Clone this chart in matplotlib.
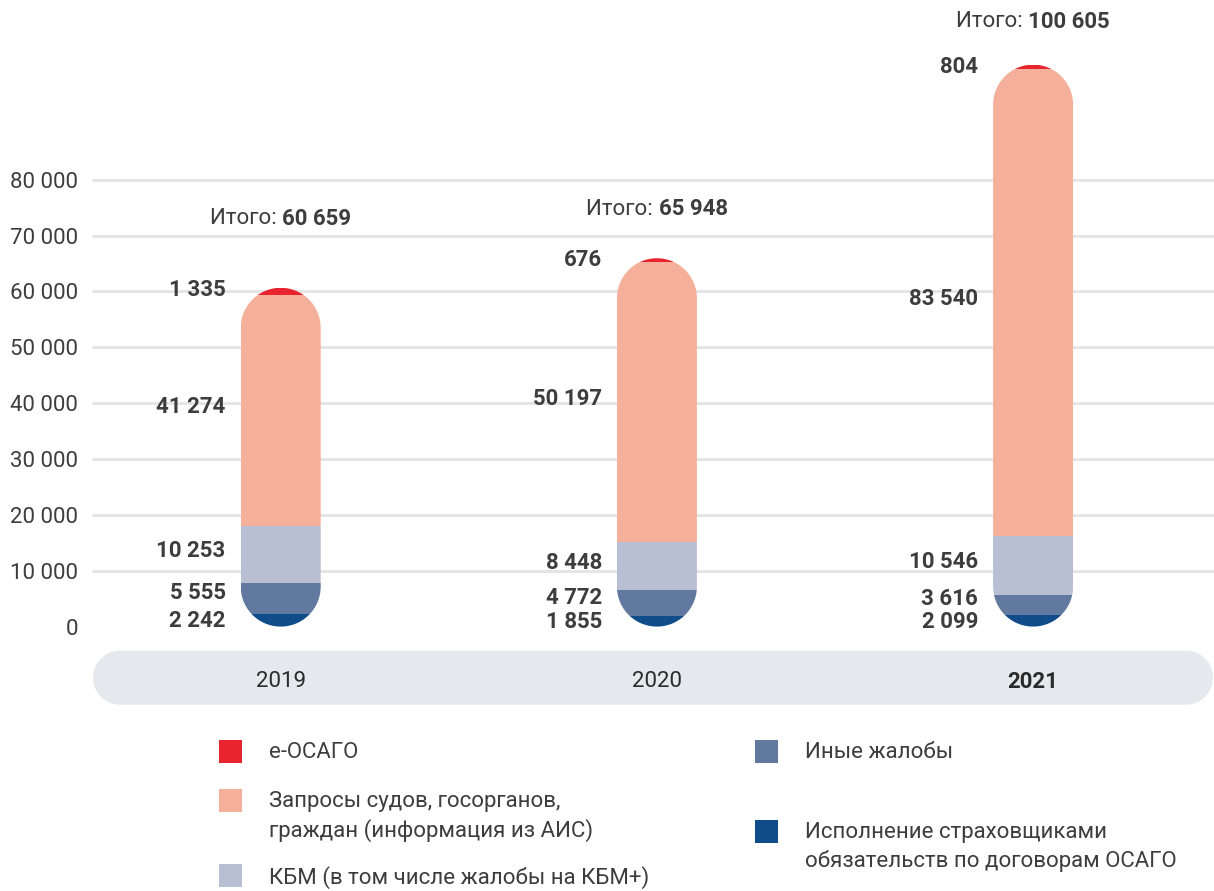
import numpy as np
import matplotlib.pyplot as plt
from matplotlib.patches import Polygon, Rectangle

plt.rcParams['font.family'] = ['Roboto', 'DejaVu Sans']

years = ["2019", "2020", "2021"]
# stacked from the bottom up
segments = [
    "Исполнение страховщиками\nобязательств по договорам ОСАГО",
    "Иные жалобы",
    "КБМ (в том числе жалобы на КБМ+)",
    "Запросы судов, госорганов,\nграждан (информация из АИС)",
    "e-ОСАГО",
]
values = {
    "2019": [2242, 5555, 10253, 41274, 1335],
    "2020": [1855, 4772, 8448, 50197, 676],
    "2021": [2099, 3616, 10546, 83540, 804],
}
colors = ["#0f4c89", "#62799f", "#b9bfd3", "#f5b09b", "#e8242f"]
y_ticks = [0, 10000, 20000, 30000, 40000, 50000, 60000, 70000, 80000]
# how far above each bar the total line sits, in pixels
total_offset_px = [69, 49, 43]
# vertical nudge of each segment label from the segment middle (data units)
label_lift = [-150, 950, 550, 550]

TXT = "#3d3d3d"
FS = 16
W, H = 1214, 891
fig = plt.figure(figsize=(W / 100, H / 100), dpi=100)

# axes fills the full height; x runs from the first gridline pixel to the right edge
x0_px = 92
ax = fig.add_axes([x0_px / W, 0, 1 - x0_px / W, 1])
px_per_x = 376.2
px_per_y = 0.005586
x_left = (x0_px - 280.7) / px_per_x
x_right = (W - 280.7) / px_per_x
y_bottom = (626.6 - H) / px_per_y
y_top = 626.6 / px_per_y
ax.set_xlim(x_left, x_right)
ax.set_ylim(y_bottom, y_top)
for s in ax.spines.values():
    s.set_visible(False)
ax.set_xticks([])
ax.set_yticks(y_ticks)
ax.set_yticklabels([f"{t:,}".replace(",", " ") for t in y_ticks], fontsize=FS, color=TXT)
ax.tick_params(axis='y', length=0, pad=10)
for lab in ax.get_yticklabels():
    lab.set_horizontalalignment('right')

ax.hlines([t for t in y_ticks if t > 0], x_left, x_right, color="#e4e4e4", lw=2, zorder=1)


def capsule(xa, xb, ya, yb, rx, ry, n=40):
    """Closed outline of a rectangle with fully rounded top and bottom ends."""
    cx = (xa + xb) / 2
    t_top = np.linspace(0, np.pi, n)
    t_bot = np.linspace(np.pi, 2 * np.pi, n)
    top = np.column_stack([cx + rx * np.cos(t_top), yb - ry + ry * np.sin(t_top)])
    bot = np.column_stack([cx + rx * np.cos(t_bot), ya + ry + ry * np.sin(t_bot)])
    return np.vstack([top, bot])


def pill(xa, xb, ya, yb, rx, ry, n=40):
    """Horizontal rounded band: semicircles on the left and right."""
    cy = (ya + yb) / 2
    t_r = np.linspace(-np.pi / 2, np.pi / 2, n)
    t_l = np.linspace(np.pi / 2, 3 * np.pi / 2, n)
    right = np.column_stack([xb - rx + rx * np.cos(t_r), cy + ry * np.sin(t_r)])
    left = np.column_stack([xa + rx + rx * np.cos(t_l), cy + ry * np.sin(t_l)])
    return np.vstack([right, left])


bar_w = 80 / px_per_x
r_x = 40 / px_per_x
r_y = 40 / px_per_y
gap = 15 / px_per_x

fig.canvas.draw()
renderer = fig.canvas.get_renderer()

for i, yr in enumerate(years):
    vals = values[yr]
    total = sum(vals)
    outline = Polygon(capsule(i - bar_w / 2, i + bar_w / 2, 0, total, r_x, r_y),
                      closed=True, transform=ax.transData)
    bottoms = np.concatenate([[0], np.cumsum(vals)[:-1]])
    bars = ax.bar([i] * len(vals), vals, bottom=bottoms, width=bar_w,
                  color=colors, zorder=2, linewidth=0)
    for b in bars:
        b.set_clip_path(outline)

    # segment value labels to the left of the bar
    for k, (v, b0) in enumerate(zip(vals, bottoms)):
        if k == len(vals) - 1:
            ly = total - 400
        else:
            ly = b0 + v / 2 + label_lift[k]
        ax.text(i - bar_w / 2 - gap, ly, f"{v:,}".replace(",", " "),
                ha='right', va='center', fontsize=FS, fontweight='bold',
                color=TXT, zorder=4)

    # "Итого: N" line, regular prefix + bold number, centred over the bar
    t1 = ax.annotate("Итого: ", xy=(i, total), xytext=(0, total_offset_px[i]),
                     textcoords='offset pixels', ha='left', va='center',
                     fontsize=FS, color=TXT)
    t2 = ax.annotate(f"{total:,}".replace(",", " "), xy=(i, total),
                     xytext=(0, total_offset_px[i]), textcoords='offset pixels',
                     ha='left', va='center', fontsize=FS, fontweight='bold', color=TXT)
    w1 = t1.get_window_extent(renderer).width
    w2 = t2.get_window_extent(renderer).width
    t1.set_position((-(w1 + w2) / 2, total_offset_px[i]))
    t2.set_position((-(w1 + w2) / 2 + w1, total_offset_px[i]))

# category band under the bars
band_a = (93 - 280.7) / px_per_x
band_b = (1213 - 280.7) / px_per_x
band_lo = (626.6 - 704.7) / px_per_y
band_hi = (626.6 - 650.7) / px_per_y
ax.add_patch(Polygon(pill(band_a, band_b, band_lo, band_hi, 27 / px_per_x, 27 / px_per_y),
                     closed=True, facecolor="#e7e8ee", edgecolor='none', zorder=1,
                     clip_on=False))
for i, yr in enumerate(years):
    ax.text(i, (band_lo + band_hi) / 2 - 700, yr, ha='center',
            va='center', fontsize=FS, color="#2a2a2a",
            fontweight='bold' if yr == "2021" else 'normal')


# legend, laid out in figure pixels
def fpx(x, y):
    return x / W, 1 - y / H


legend_slots = [
    (4, 219, 740),
    (3, 219, 789),
    (2, 219, 864),
    (1, 755, 740),
    (0, 755, 820),
]
for k, sx, sy in legend_slots:
    fx, fy = fpx(sx, sy + 23)
    fig.add_artist(Rectangle((fx, fy), 23 / W, 23 / H, transform=fig.transFigure,
                             facecolor=colors[k], edgecolor='none'))
    tx, ty = fpx(sx + 50, sy + 2)
    fig.text(tx, ty, segments[k], ha='left', va='top', fontsize=FS, color=TXT,
             linespacing=1.4)

fig.savefig("out.png", dpi=100)
